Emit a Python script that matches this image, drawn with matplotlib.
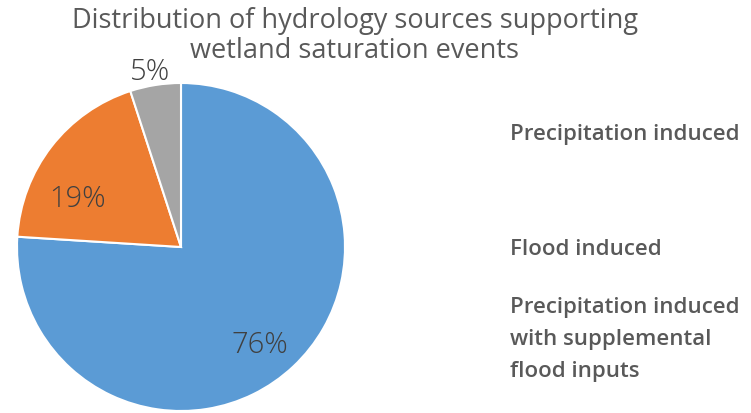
import matplotlib.pyplot as plt

TEXT_GRAY = "#595959"
W, H = 751, 414

labels = ["Precipitation induced", "Flood induced",
          "Precipitation induced\nwith supplemental\nflood inputs"]
shares = [76, 19, 5]
colors = ["#5B9BD5", "#ED7D31", "#A5A5A5"]
pct_labels = ["76%", "19%", "5%"]
# label positions relative to pie radius (Excel "best fit" placement)
pct_pos = [(0.48, -0.59), (-0.63, 0.30), (-0.19, 1.07)]
title_lines = ["Distribution of hydrology sources supporting",
               "wetland saturation events"]
title_baselines = [28, 58]
legend_baselines = [140, 255, 313]
legend_step = 32

fig = plt.figure(figsize=(W / 100, H / 100), dpi=100)
ax = fig.add_axes([17 / W, 2 / H, 328 / W, 328 / H])

ax.pie(
    shares,
    colors=colors,
    startangle=90,
    counterclock=False,
    radius=1,
    wedgeprops={"edgecolor": "white", "linewidth": 1.5},
)
ax.set_xlim(-1, 1)
ax.set_ylim(-1, 1)
ax.set_aspect("equal")

for txt, (x, y) in zip(pct_labels, pct_pos):
    ax.text(x, y, txt, ha="center", va="center", fontsize=21,
            color="#404040", family="Open Sans", fontweight="light")

for line, yb in zip(title_lines, title_baselines):
    fig.text(355 / W, 1 - yb / H, line, ha="center", va="baseline",
             fontsize=19.5, color=TEXT_GRAY, family="Open Sans")

for lab, yb in zip(labels, legend_baselines):
    for i, line in enumerate(lab.split("\n")):
        fig.text(510 / W, 1 - (yb + i * legend_step) / H, line,
                 ha="left", va="baseline", fontsize=16,
                 fontweight="semibold", color=TEXT_GRAY, family="Open Sans")

fig.savefig("out.png", dpi=100)
